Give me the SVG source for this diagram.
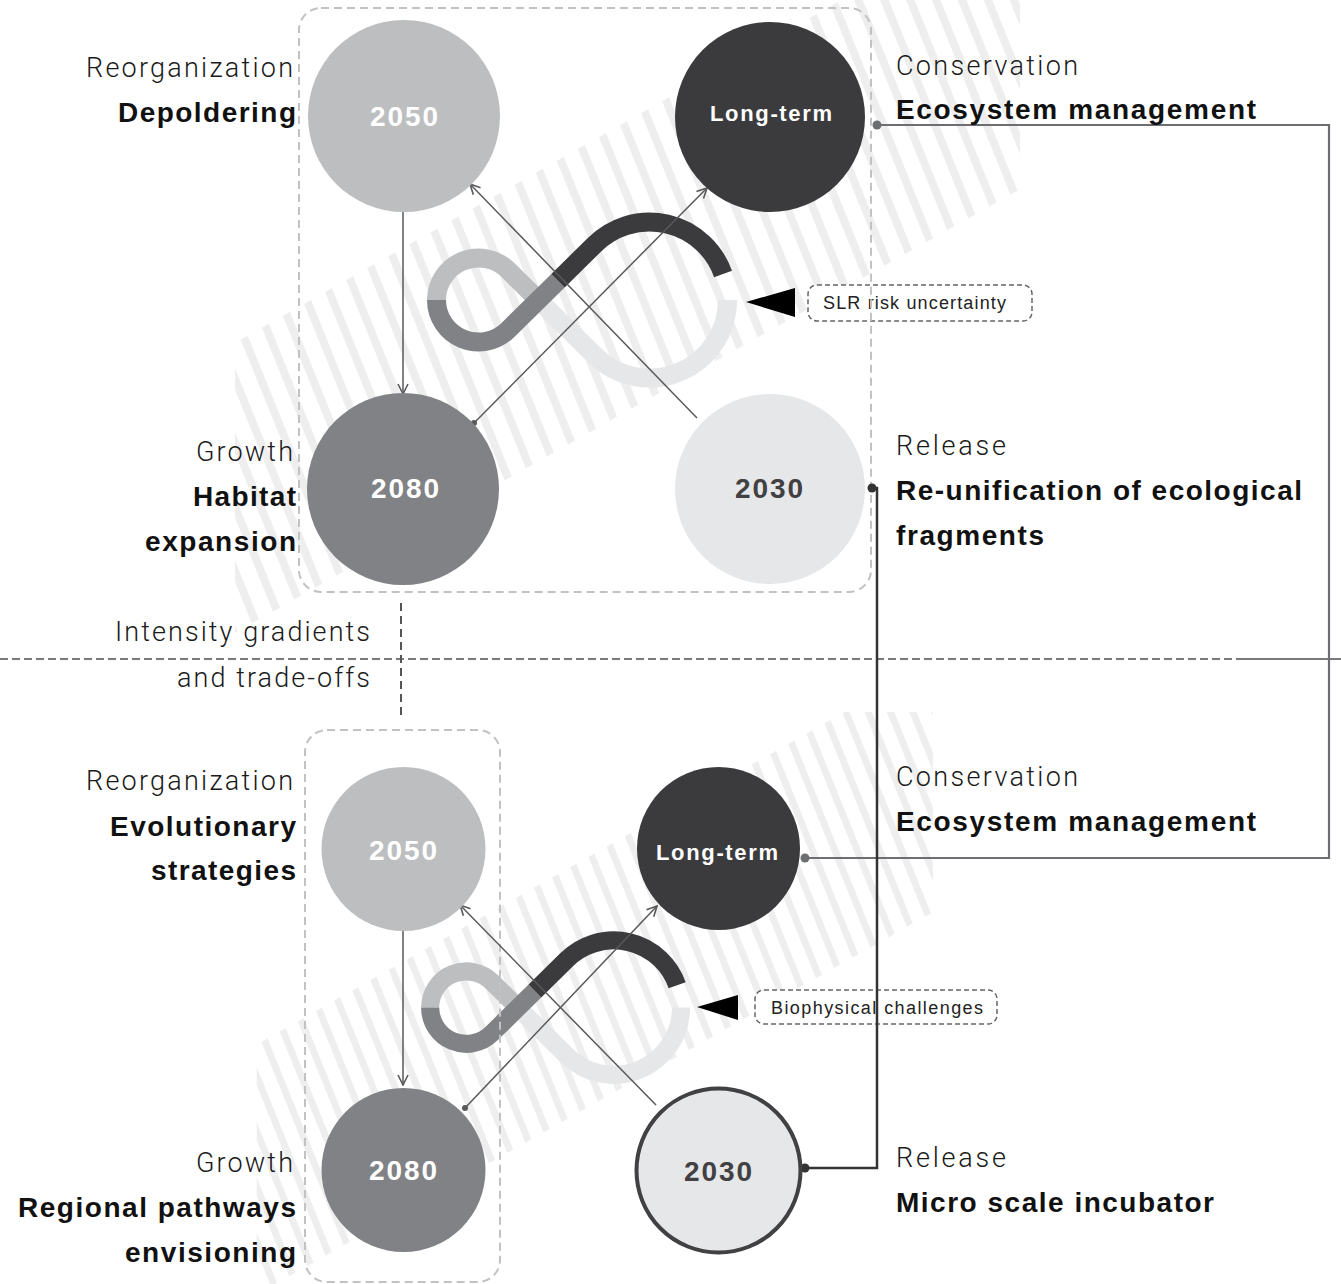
<svg xmlns="http://www.w3.org/2000/svg" xmlns:xlink="http://www.w3.org/1999/xlink" width="1341" height="1284" viewBox="0 0 1341 1284">
<style>
.lt{font-family:Roboto,"Liberation Sans",Arial,sans-serif;font-weight:300;font-size:27px;fill:#1a1a1a}
.bd{font-family:"Liberation Sans",Arial,sans-serif;font-weight:bold;font-size:28px;fill:#111}
.num{font-family:"Liberation Sans",Arial,sans-serif;font-weight:bold;font-size:28px;fill:#fff;text-anchor:middle}
.lterm{font-family:"Liberation Sans",Arial,sans-serif;font-weight:bold;font-size:22px;fill:#fff;text-anchor:middle}
.tag{font-family:"Liberation Sans",Arial,sans-serif;font-size:18px;fill:#222}
.end{text-anchor:end}
.box{fill:none;stroke:#c2c2c2;stroke-width:2;stroke-dasharray:8 5}
.tagbox{fill:#fff;stroke:#666;stroke-width:1.5;stroke-dasharray:5 3}
.arr{fill:none;stroke:#58595b;stroke-width:1.5}
.conn{fill:none;stroke:#6d6e71;stroke-width:2.2}
.conn2{fill:none;stroke:#333;stroke-width:2.5}
</style>
<defs>
<pattern id="stripes" patternUnits="userSpaceOnUse" width="24" height="40" patternTransform="rotate(-22)">
<rect x="0" y="0" width="8" height="40" fill="#eeeeef"/>
</pattern>
<clipPath id="bandClip"><polygon points="235,343 1020,-101 1020,189 235,633"/></clipPath>
<clipPath id="bottomClip"><rect x="0" y="712" width="1341" height="572"/></clipPath>
<g id="band"><rect x="200" y="-150" width="860" height="820" fill="url(#stripes)" clip-path="url(#bandClip)"/></g>
<g id="loop" fill="none">
<path d="M727.5,300 A78,78 0 0 1 594.76,355.57 L538.35,300" stroke="#e6e7e8"/>
<path d="M538.35,300 L507.98,270.08 A42,42 0 0 0 436.5,300" stroke="#bcbec0"/>
<path d="M436.5,300 A42,42 0 0 0 507.98,329.92 L558,280.7" stroke="#808285"/>
<path d="M558,280.7 L594.76,244.43 A78,78 0 0 1 723.03,273.96" stroke="#3b3b3d"/>
</g>
<marker id="chev" viewBox="0 0 12 12" refX="11" refY="6" markerWidth="12" markerHeight="12" markerUnits="userSpaceOnUse" orient="auto">
<path d="M1,1 L11,6 L1,11" fill="none" stroke="#58595b" stroke-width="1.6"/>
</marker>
</defs>
<rect width="1341" height="1284" fill="#fff"/>

<g id="background-hatch">
<use xlink:href="#band"/>
<g clip-path="url(#bottomClip)"><use xlink:href="#band" transform="matrix(0.862 0 0 0.862 53.9 749)"/></g>
</g>

<g id="cycle-loops">
<use xlink:href="#loop" stroke-width="19"/>
<use xlink:href="#loop" stroke-width="21" transform="matrix(0.862 0 0 0.862 53.9 749)"/>
</g>

<g id="label-slr">
<rect class="tagbox" x="808" y="285" width="224" height="36" rx="9"/>
<polygon points="746,302 795,288 795,317" fill="#000"/>
<text class="tag" x="823" y="309" textLength="183" lengthAdjust="spacing">SLR risk uncertainty</text>
</g>
<g id="label-bio">
<rect class="tagbox" x="755" y="990" width="242" height="34" rx="9"/>
<polygon points="697,1007 738,995 738,1020" fill="#000"/>
<text class="tag" x="771" y="1014" textLength="212" lengthAdjust="spacing">Biophysical challenges</text>
</g>

<g id="frames">
<rect class="box" x="299" y="8" width="572" height="584" rx="22"/>
<rect class="box" x="305" y="730" width="195" height="552" rx="22"/>
</g>

<g id="connectors">
<line x1="0" y1="659" x2="1240" y2="659" stroke="#7a7a7a" stroke-width="2" stroke-dasharray="8 4"/>
<line x1="1240" y1="659" x2="1341" y2="659" stroke="#7a7a7a" stroke-width="2"/>
<line x1="401" y1="603" x2="401" y2="718" stroke="#555" stroke-width="2" stroke-dasharray="8 5"/>
<line class="arr" x1="403" y1="212" x2="403" y2="394" marker-end="url(#chev)"/>
<line class="arr" x1="474" y1="423" x2="707" y2="188" marker-end="url(#chev)"/>
<line class="arr" x1="697" y1="418" x2="470" y2="184" marker-end="url(#chev)"/>
<circle cx="474" cy="423" r="3" fill="#58595b"/>
<line class="arr" x1="403" y1="931" x2="403" y2="1085" marker-end="url(#chev)"/>
<line class="arr" x1="465" y1="1108" x2="657" y2="906" marker-end="url(#chev)"/>
<line class="arr" x1="656" y1="1105" x2="460" y2="905" marker-end="url(#chev)"/>
<circle cx="465" cy="1108" r="3" fill="#58595b"/>
<path class="conn" d="M877,125 H1329 V858 H805"/>
<circle cx="877" cy="125" r="4.5" fill="#6d6e71"/>
<circle cx="805" cy="858" r="4.5" fill="#6d6e71"/>
<path class="conn2" d="M872,488 H877 V1168 H805"/>
<circle cx="872" cy="488" r="4.5" fill="#333"/>
<circle cx="805" cy="1168" r="4.5" fill="#333"/>
</g>

<g id="node-top-2050">
<circle cx="404" cy="116" r="96" fill="#bcbec0"/>
<text class="num" x="404" y="126" textLength="68" lengthAdjust="spacing">2050</text>
</g>
<g id="node-top-longterm">
<circle cx="770" cy="117" r="95" fill="#3b3b3d"/>
<text class="lterm" x="771" y="121" textLength="122" lengthAdjust="spacing">Long-term</text>
</g>
<g id="node-top-2080">
<circle cx="403" cy="489" r="96" fill="#808285"/>
<text class="num" x="405" y="498" textLength="68" lengthAdjust="spacing">2080</text>
</g>
<g id="node-top-2030">
<circle cx="770" cy="489" r="95" fill="#e6e7e8"/>
<text class="num" x="769" y="498" textLength="68" lengthAdjust="spacing" style="fill:#414042">2030</text>
</g>
<g id="node-bottom-2050">
<circle cx="403.5" cy="849" r="82" fill="#bcbec0"/>
<text class="num" x="403" y="860" textLength="68" lengthAdjust="spacing">2050</text>
</g>
<g id="node-bottom-longterm">
<circle cx="718.5" cy="848.5" r="81.5" fill="#3b3b3d"/>
<text class="lterm" x="717" y="860" textLength="122" lengthAdjust="spacing">Long-term</text>
</g>
<g id="node-bottom-2080">
<circle cx="403.5" cy="1170" r="82" fill="#808285"/>
<text class="num" x="403" y="1180" textLength="68" lengthAdjust="spacing">2080</text>
</g>
<g id="node-bottom-2030">
<circle cx="718.5" cy="1170.5" r="82" fill="#e6e7e8" stroke="#414042" stroke-width="4"/>
<text class="num" x="718" y="1181" textLength="68" lengthAdjust="spacing" style="fill:#414042">2030</text>
</g>

<g id="labels-top-left">
<text class="lt end" x="293" y="77" textLength="207" lengthAdjust="spacing">Reorganization</text>
<text class="bd end" x="296" y="122" textLength="178" lengthAdjust="spacing">Depoldering</text>
<text class="lt end" x="293" y="461" textLength="97" lengthAdjust="spacing">Growth</text>
<text class="bd end" x="296" y="506" textLength="103" lengthAdjust="spacing">Habitat</text>
<text class="bd end" x="296" y="551" textLength="151" lengthAdjust="spacing">expansion</text>
</g>
<g id="labels-top-right">
<text class="lt" x="896" y="75" textLength="182" lengthAdjust="spacing">Conservation</text>
<text class="bd" x="896" y="119" textLength="360" lengthAdjust="spacing">Ecosystem management</text>
<text class="lt" x="896" y="455" textLength="110" lengthAdjust="spacing">Release</text>
<text class="bd" x="896" y="500" textLength="406" lengthAdjust="spacing">Re-unification of ecological</text>
<text class="bd" x="896" y="545" textLength="148" lengthAdjust="spacing">fragments</text>
</g>
<g id="labels-middle">
<text class="lt end" x="370" y="641" textLength="255" lengthAdjust="spacing">Intensity gradients</text>
<text class="lt end" x="370" y="687" textLength="193" lengthAdjust="spacing">and trade-offs</text>
</g>
<g id="labels-bottom-left">
<text class="lt end" x="293" y="790" textLength="207" lengthAdjust="spacing">Reorganization</text>
<text class="bd end" x="296" y="836" textLength="186" lengthAdjust="spacing">Evolutionary</text>
<text class="bd end" x="296" y="880" textLength="145" lengthAdjust="spacing">strategies</text>
<text class="lt end" x="293" y="1172" textLength="97" lengthAdjust="spacing">Growth</text>
<text class="bd end" x="296" y="1217" textLength="278" lengthAdjust="spacing">Regional pathways</text>
<text class="bd end" x="296" y="1262" textLength="171" lengthAdjust="spacing">envisioning</text>
</g>
<g id="labels-bottom-right">
<text class="lt" x="896" y="786" textLength="182" lengthAdjust="spacing">Conservation</text>
<text class="bd" x="896" y="831" textLength="360" lengthAdjust="spacing">Ecosystem management</text>
<text class="lt" x="896" y="1167" textLength="110" lengthAdjust="spacing">Release</text>
<text class="bd" x="896" y="1212" textLength="318" lengthAdjust="spacing">Micro scale incubator</text>
</g>
</svg>
